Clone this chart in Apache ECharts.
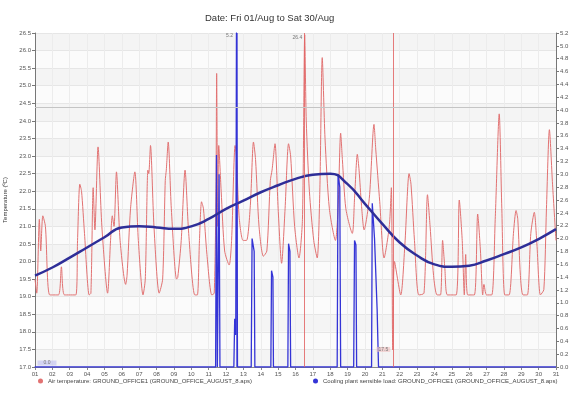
<!DOCTYPE html>
<html><head><meta charset="utf-8">
<script src="https://cdn.jsdelivr.net/npm/echarts@6/dist/echarts.min.js"></script>
<style>html,body{margin:0;padding:0;background:#fff}#c{width:580px;height:398px}</style>
</head><body><div id="c"></div>
<script>
// x = days since 00:00 Fri 01/Aug
var dayLabels = ['01','02','03','04','05','06','07','08','09','10','11','12','13','14','15','16','17','18','19','20','21','22','23','24','25','26','27','28','29','30','31'];
var airTemp = [
[0.00,19.5],[0.10,19.1],[0.25,21.2],[0.33,20.3],[0.45,21.3],[0.60,21.0],[0.85,19.05],
[1.35,19.05],[1.52,19.85],[1.70,19.05],
[2.35,19.05],[2.45,20.6],[2.58,22.2],[2.68,22.0],[2.85,20.8],[3.12,19.05],
[3.22,19.1],[3.35,22.1],[3.45,20.9],[3.63,23.26],[3.85,21.0],[4.18,19.1],
[4.35,20.6],[4.45,21.3],[4.55,21.0],[4.69,22.55],[4.90,20.6],[5.22,19.35],
[5.30,19.6],[5.50,21.5],[5.75,22.55],[5.95,20.6],[6.22,19.05],
[6.35,19.5],[6.50,22.6],[6.55,22.5],[6.65,23.3],[6.85,21.0],[7.15,19.1],
[7.35,19.5],[7.50,22.3],[7.56,22.6],[7.67,23.4],[7.85,21.5],[8.15,19.5],
[8.22,19.55],[8.42,20.6],[8.64,22.6],[8.85,20.8],[9.20,19.05],
[9.35,19.05],[9.47,20.6],[9.59,21.7],[9.70,21.5],[9.90,20.2],[10.18,19.05],
[10.32,19.1],[10.42,22.0],[10.46,25.35],[10.52,21.0],[10.58,23.3],[10.72,22.0],[10.92,20.3],[11.18,19.9],
[11.32,20.6],[11.52,23.3],[11.60,23.0],[11.75,21.3],[11.98,20.6],
[12.18,20.6],[12.40,21.6],[12.58,23.4],[12.70,22.9],[12.90,21.0],[13.15,20.15],
[13.35,20.3],[13.55,22.3],[13.65,22.6],[13.82,23.35],[14.00,21.5],[14.20,19.95],
[14.40,21.5],[14.60,23.35],[14.72,23.0],[14.95,21.0],[15.20,20.1],
[15.40,21.2],[15.53,26.44],[15.62,24.0],[15.80,22.0],[16.05,20.6],[16.25,20.1],
[16.40,22.0],[16.54,25.8],[16.70,23.5],[16.95,21.5],[17.30,20.6],
[17.45,21.5],[17.60,23.65],[17.70,22.9],[17.90,21.5],[18.27,20.8],
[18.40,21.8],[18.56,23.05],[18.66,22.6],[18.80,21.6],[18.95,20.9],
[19.25,21.8],[19.52,23.9],[19.62,23.2],[19.85,21.7],[20.10,20.1],
[20.40,21.0],[20.52,22.1],[20.60,17.5],[20.70,20.0],[21.06,19.05],
[21.30,20.5],[21.54,22.5],[21.65,22.2],[21.85,20.6],[22.10,19.05],
[22.40,19.1],[22.60,21.9],[22.75,21.0],[22.95,19.6],[23.15,19.05],
[23.35,19.05],[23.47,20.6],[23.60,19.8],[23.75,19.05],
[24.25,19.05],[24.43,21.75],[24.60,20.6],[24.72,19.05],[24.80,20.2],[24.92,19.05],
[25.30,19.05],[25.49,21.35],[25.65,20.3],[25.78,19.05],[25.85,19.35],[26.00,19.05],
[26.30,19.05],[26.50,21.2],[26.73,24.2],[26.88,21.5],[27.05,19.05],
[27.30,19.05],[27.55,20.8],[27.70,21.45],[27.80,21.2],[27.95,19.6],[28.10,19.05],
[28.35,19.05],[28.55,20.8],[28.75,21.4],[28.90,20.5],[29.10,19.05],
[29.30,19.2],[29.45,21.5],[29.62,23.75],[29.80,22.2],[30.00,20.6]
];
var coolingLoad = [
[0,0],[10.40,0],[10.45,3.3],[10.50,0],[10.55,0],[10.60,3.0],[10.65,0],
[11.45,0],[11.50,0.75],[11.56,0.5],[11.60,5.2],[11.66,0],
[12.45,0],[12.50,2.0],[12.62,1.8],[12.66,0],
[13.58,0],[13.62,1.5],[13.70,1.4],[13.73,0],
[14.56,0],[14.60,1.92],[14.68,1.8],[14.72,0],
[17.40,0],[17.45,3.0],[17.55,2.8],[17.60,0],
[18.35,0],[18.40,1.97],[18.48,1.9],[18.52,0],
[19.38,0],[19.42,2.55],[19.55,2.0],[19.70,0.9],[19.78,0],
[30,0]
];
var trendTemp = [19.6,19.83,20.11,20.4,20.69,20.97,21.0,20.97,20.93,21.0,21.21,21.5,21.73,21.97,22.17,22.35,22.47,22.5,22.2,21.64,21.07,20.54,20.17,19.92,19.85,19.88,20.03,20.21,20.4,20.64,20.92];
var thresholdTemp = 24.4;
var seriesNames = ['Air temperature: GROUND_OFFICE1 (GROUND_OFFICE_AUGUST_8.aps)','Cooling plant sensible load: GROUND_OFFICE1 (GROUND_OFFICE_AUGUST_8.aps)'];

function extremes(arr){var mx=arr[0],mn=arr[0];arr.forEach(function(p){if(p[1]>mx[1])mx=p;if(p[1]<mn[1])mn=p;});return {max:mx,min:mn};}
var tE = extremes(airTemp), lE = extremes(coolingLoad);
var trendData = trendTemp.map(function(v,i){return [i,v];});

var RED='#e27272', BLUE='#3434d6', NAVY='#2e2e98';
var lblFont = {fontSize:6,color:'#555',fontFamily:'Liberation Sans'};
var redMark = {color:'rgba(226,100,100,0.85)',width:1,type:'solid'};

var chart = echarts.init(document.getElementById('c'),null,{renderer:'canvas'});
chart.setOption({
  animation:false,
  backgroundColor:'#fff',
  title:{text:'Date: Fri 01/Aug to Sat 30/Aug',left:200,top:8,textStyle:{fontSize:9.5,fontWeight:'normal',color:'#333',fontFamily:'Liberation Sans'}},
  grid:{left:35,right:24,top:33,bottom:31,containLabel:false,outerBoundsMode:'none'},
  legend:[
    {data:[seriesNames[0]],left:33,top:373,icon:'circle',itemWidth:5,itemHeight:5,itemGap:4,textStyle:{fontSize:6,color:'#444',fontFamily:'Liberation Sans'}},
    {data:[seriesNames[1]],left:308,top:373,icon:'circle',itemWidth:5,itemHeight:5,itemGap:4,textStyle:{fontSize:6,color:'#444',fontFamily:'Liberation Sans'}}
  ],
  xAxis:{type:'value',min:0,max:30,interval:1,
    axisLine:{lineStyle:{color:'#888'}},axisTick:{show:true,length:3,lineStyle:{color:'#888'}},
    axisLabel:Object.assign({margin:4,formatter:function(v){return dayLabels[v];}},lblFont),
    splitLine:{show:true,lineStyle:{color:'#ececec'}}},
  yAxis:[
    {type:'value',min:17,max:26.5,interval:0.5,name:'Temperature (ºC)',nameLocation:'middle',nameGap:25,
     nameTextStyle:{fontSize:6,color:'#333',fontFamily:'Liberation Sans'},
     axisLine:{show:true,lineStyle:{color:'#777'}},axisTick:{show:true,length:3,lineStyle:{color:'#777'}},
     axisLabel:Object.assign({margin:4,formatter:function(v){return v.toFixed(1);}},lblFont),
     splitLine:{show:true,lineStyle:{color:'#e6e6e6'}},
     splitArea:{show:true,areaStyle:{color:['#f4f4f4','#fbfbfb']}}},
    {type:'value',min:0,max:5.2,interval:0.2,name:'Load (kW)',nameLocation:'middle',nameGap:17,
     nameTextStyle:{fontSize:6,color:'#333',fontFamily:'Liberation Sans'},
     axisLine:{show:true,lineStyle:{color:'#777'}},axisTick:{show:true,length:3,lineStyle:{color:'#777'}},
     axisLabel:Object.assign({margin:4,formatter:function(v){return v.toFixed(1);}},lblFont),
     splitLine:{show:false}}
  ],
  series:[
    {name:seriesNames[0],type:'line',yAxisIndex:0,data:airTemp,showSymbol:false,symbol:'circle',smooth:0.25,
     lineStyle:{color:RED,width:1},itemStyle:{color:RED},
     markPoint:{symbol:'rect',symbolSize:1,itemStyle:{color:RED},
       data:[
        {coord:tE.max,value:tE.max[1].toFixed(1),label:{position:'left',distance:2,offset:[0,3]}},
        {coord:tE.min,value:tE.min[1].toFixed(1),label:{position:'left',distance:2,backgroundColor:'rgba(240,190,190,0.6)',padding:[0,2]}}
       ],
       label:{fontSize:5,color:'#777',fontFamily:'Liberation Sans'}},
     markLine:{silent:true,symbol:'none',label:{show:false},
       lineStyle:redMark,
       data:[{xAxis:tE.max[0],lineStyle:redMark},{xAxis:tE.min[0],lineStyle:redMark}]}},
    {name:seriesNames[1],type:'line',yAxisIndex:1,data:coolingLoad,showSymbol:false,symbol:'circle',
     lineStyle:{color:BLUE,width:1.3},itemStyle:{color:BLUE},
     markPoint:{symbol:'rect',symbolSize:1,itemStyle:{color:BLUE},
       data:[
        {coord:lE.max,value:lE.max[1].toFixed(1),label:{position:'left',distance:3,offset:[0,3]}},
        {coord:lE.min,value:lE.min[1].toFixed(1),label:{position:'right',distance:2,offset:[0,-4],backgroundColor:'rgba(180,180,240,0.5)',padding:[0,6]}}
       ],
       label:{fontSize:5,color:'#777',fontFamily:'Liberation Sans'}},
     markLine:{silent:true,symbol:'none',label:{show:false},
       lineStyle:{color:'rgba(52,52,214,0.8)',width:1.5,type:'solid'},
       data:[{xAxis:lE.max[0]}]}},
    {name:'trend',type:'line',yAxisIndex:0,data:trendData,smooth:true,showSymbol:false,
     lineStyle:{color:NAVY,width:2.5},itemStyle:{color:NAVY},
     markLine:{silent:true,symbol:'none',label:{show:false},
       lineStyle:{color:'#c4c4c4',width:1,type:'solid'},
       data:[{yAxis:thresholdTemp}]}}
  ]
});
</script></body></html>
